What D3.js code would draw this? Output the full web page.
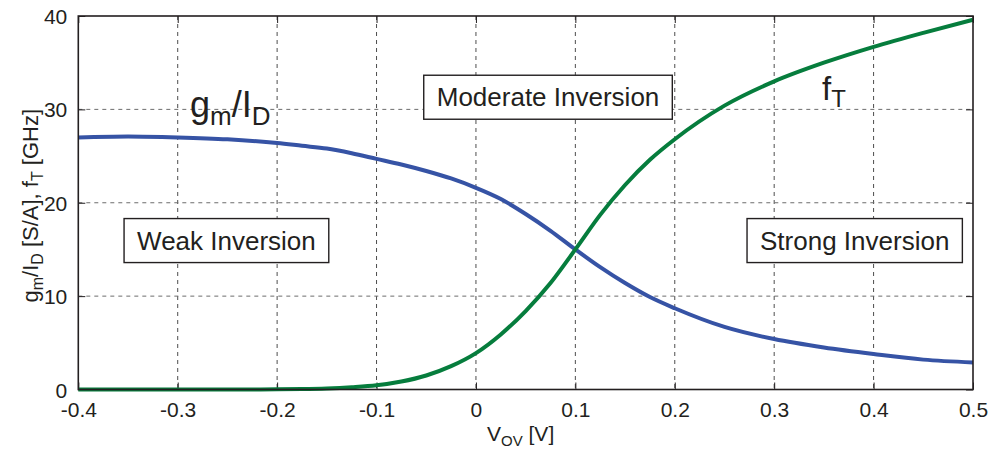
<!DOCTYPE html>
<html>
<head>
<meta charset="utf-8">
<script src="https://cdn.jsdelivr.net/npm/d3@7"></script>
<style>
  html, body { margin: 0; padding: 0; background: #fff; }
  svg { display: block; }
  text { font-family: "Liberation Sans", Arial, Helvetica, sans-serif; fill: #231f20; }
</style>
</head>
<body>
<svg id="chart" width="992" height="450"></svg>
<script>
// Overdrive voltage sweep [V]
const vov = [-0.4, -0.35, -0.3, -0.25, -0.2, -0.175, -0.15, -0.125, -0.1, -0.075, -0.05, -0.025,
             0, 0.025, 0.05, 0.075, 0.1, 0.125, 0.15, 0.175, 0.2, 0.25, 0.3, 0.35, 0.4, 0.45, 0.5];
// Transconductance efficiency gm/ID [S/A]
const gmId = [27.0, 27.1, 27.0, 26.8, 26.4, 26.1, 25.8, 25.3, 24.7, 24.1, 23.4, 22.6,
              21.6, 20.4, 18.8, 17.0, 15.0, 13.1, 11.4, 9.9, 8.7, 6.7, 5.4, 4.5, 3.8, 3.2, 2.9];
// Transit frequency fT [GHz]
const fT = [0, 0, 0, 0, 0.02, 0.05, 0.12, 0.25, 0.45, 0.85, 1.5, 2.5,
            3.9, 5.9, 8.4, 11.4, 15.0, 18.7, 21.9, 24.6, 26.8, 30.4, 33.0, 35.0, 36.7, 38.2, 39.6];

const xTicks = [-0.4, -0.3, -0.2, -0.1, 0, 0.1, 0.2, 0.3, 0.4, 0.5];
const yTicks = [0, 10, 20, 30, 40];

// Operating-region annotations: [label, centre V_OV, centre value]
const regions = [
  ["Weak Inversion", -0.251, 15.95],
  ["Moderate Inversion", 0.0725, 31.3],
  ["Strong Inversion", 0.381, 15.95]
];

const svg = d3.select("#chart");
const m = { left: 78.3, right: 992 - 973, top: 16, bottom: 450 - 389.5 };
const W = 992 - m.left - m.right, H = 450 - m.top - m.bottom;

const x = d3.scaleLinear().domain([-0.4, 0.5]).range([m.left, m.left + W]);
const y = d3.scaleLinear().domain([0, 40]).range([m.top + H, m.top]);

const g = svg.append("g");

// Dashed grid
g.append("g").selectAll("line").data(xTicks.slice(1, -1)).join("line")
  .attr("x1", d => x(d)).attr("x2", d => x(d))
  .attr("y1", m.top).attr("y2", m.top + H)
  .attr("stroke", "#4d4d4d").attr("stroke-width", 1).attr("stroke-dasharray", "4,4");
g.append("g").selectAll("line").data(yTicks.slice(1, -1)).join("line")
  .attr("x1", m.left).attr("x2", m.left + W)
  .attr("y1", d => y(d)).attr("y2", d => y(d))
  .attr("stroke", "#6d6d6d").attr("stroke-width", 1).attr("stroke-dasharray", "4,4");

// Axes with inward ticks
const fmtX = d => d === 0 ? "0" : d3.format(".1f")(d).replace("−", "-");
const axB = g.append("g").attr("transform", `translate(0,${m.top + H})`)
  .call(d3.axisBottom(x).tickValues(xTicks).tickSizeInner(-7).tickSizeOuter(0).tickPadding(13).tickFormat(fmtX));
const axT = g.append("g").attr("transform", `translate(0,${m.top})`)
  .call(d3.axisTop(x).tickValues(xTicks).tickSizeInner(-7).tickSizeOuter(0).tickFormat(""));
const axL = g.append("g").attr("transform", `translate(${m.left},0)`)
  .call(d3.axisLeft(y).tickValues(yTicks).tickSizeInner(-7).tickSizeOuter(0).tickPadding(11));
const axR = g.append("g").attr("transform", `translate(${m.left + W},0)`)
  .call(d3.axisRight(y).tickValues(yTicks).tickSizeInner(-7).tickSizeOuter(0).tickFormat(""));
[axB, axT, axL, axR].forEach(a => {
  a.select(".domain").remove();
  a.selectAll("line").attr("stroke", "#231f20").attr("stroke-width", 1);
  a.selectAll("text").style("font-size", "21px")
    .style("font-family", '"Liberation Sans", Arial, sans-serif').attr("fill", "#231f20");
});
axB.selectAll("text").attr("dy", "0.71em");
axL.selectAll("text").attr("dy", "0.36em");

// Curves
const line = d3.line().curve(d3.curveMonotoneX);
g.append("path")
  .attr("d", line(vov.map((v, i) => [x(v), y(gmId[i])])))
  .attr("fill", "none").attr("stroke", "#3653a5").attr("stroke-width", 4).attr("stroke-linejoin", "round");
g.append("path")
  .attr("d", line(vov.map((v, i) => [x(v), y(fT[i])])))
  .attr("fill", "none").attr("stroke", "#067d3d").attr("stroke-width", 4).attr("stroke-linejoin", "round");

// Plot frame
g.append("rect").attr("x", m.left).attr("y", m.top).attr("width", W).attr("height", H)
  .attr("fill", "none").attr("stroke", "#231f20").attr("stroke-width", 1.6);

// Region boxes
regions.forEach(([label, cv, cval]) => {
  const bx = g.append("g");
  const t = bx.append("text").attr("x", x(cv)).attr("y", y(cval))
    .attr("text-anchor", "middle").attr("dy", "0.35em").style("font-size", "26px").text(label);
  const bb = t.node().getBBox();
  bx.insert("rect", "text")
    .attr("x", bb.x - 13).attr("width", bb.width + 26)
    .attr("y", y(cval) - 22).attr("height", 44)
    .attr("fill", "#fff").attr("stroke", "#231f20").attr("stroke-width", 1.4);
});

// Curve labels
const lg = g.append("text").attr("x", 190).attr("y", 117).style("font-size", "36px");
lg.append("tspan").text("g");
lg.append("tspan").attr("dy", 8).style("font-size", "26px").text("m");
lg.append("tspan").attr("dy", -8).text("/I");
lg.append("tspan").attr("dy", 8).style("font-size", "26px").text("D");

const lf = g.append("text").attr("x", 822).attr("y", 100).style("font-size", "33px");
lf.append("tspan").text("f");
lf.append("tspan").attr("dy", 7).style("font-size", "24px").text("T");

// Axis titles
const xt = svg.append("text").attr("x", 487).attr("y", 441).style("font-size", "21px");
xt.append("tspan").text("V");
xt.append("tspan").attr("dy", 5).style("font-size", "15px").text("OV");
xt.append("tspan").attr("dy", -5).text(" [V]");

const yt = svg.append("text")
  .attr("transform", `translate(38,${(m.top + m.top + H) / 2 + 3}) rotate(-90)`)
  .attr("text-anchor", "middle").style("font-size", "22px");
yt.append("tspan").text("g");
yt.append("tspan").attr("dy", 5).style("font-size", "16px").text("m");
yt.append("tspan").attr("dy", -5).text("/I");
yt.append("tspan").attr("dy", 5).style("font-size", "16px").text("D");
yt.append("tspan").attr("dy", -5).text(" [S/A], f");
yt.append("tspan").attr("dy", 5).style("font-size", "16px").text("T");
yt.append("tspan").attr("dy", -5).text(" [GHz]");
</script>
</body>
</html>
